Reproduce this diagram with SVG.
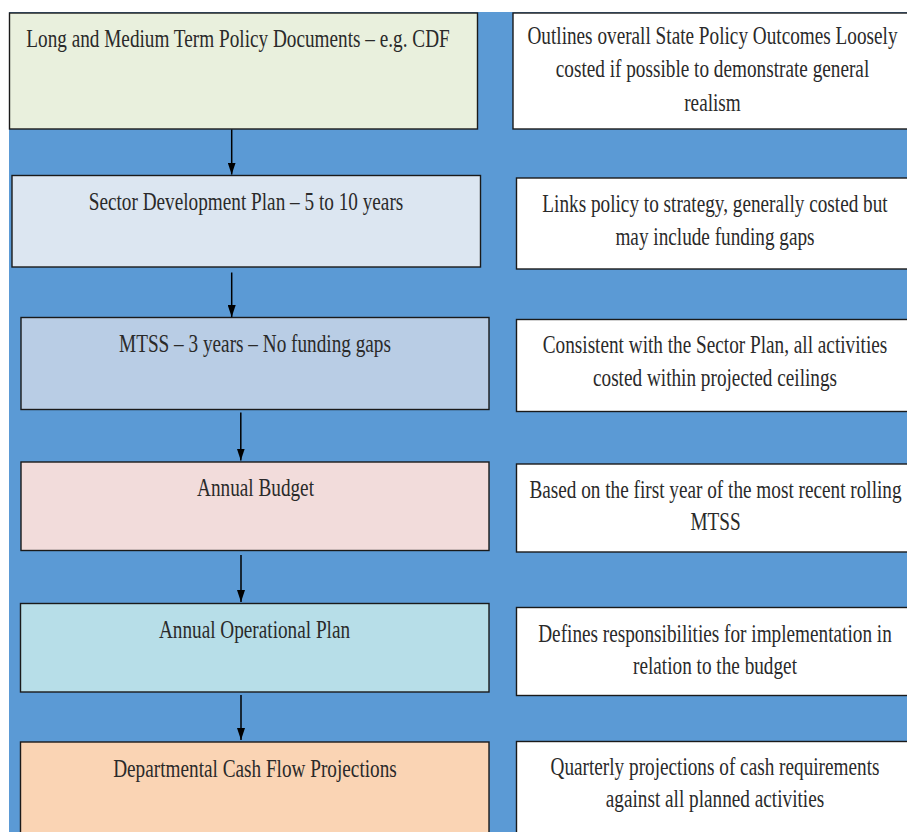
<svg xmlns="http://www.w3.org/2000/svg" width="907" height="832" viewBox="0 0 907 832">
  <style>
    .bg { fill: #5B9AD5; }
    .box { stroke: #1a1a1a; stroke-width: 1.4; }
    .note { fill: #ffffff; stroke: #1a1a1a; stroke-width: 1.4; }
    .lbl { font-family: "Liberation Serif", "Times New Roman", serif; font-size: 26px; fill: #2a2a2a; text-anchor: middle; }
    .conn { stroke: #000000; stroke-width: 1.5; fill: none; }
  </style>
  <defs>
    <marker id="arrow" viewBox="0 0 12 8" refX="12" refY="4" markerWidth="12" markerHeight="8" markerUnits="userSpaceOnUse" orient="auto">
      <path d="M0,0 L12,4 L0,8 z" fill="#000000"/>
    </marker>
  </defs>

  <!-- blue backdrop panel -->
  <rect class="bg" x="9" y="12" width="900" height="822"/>

  <!-- planning stages (left column) -->
  <g id="stage-policy">
    <rect class="box" x="9.5" y="13" width="468" height="116" fill="#E9F0DD"/>
    <text class="lbl" transform="translate(238 47) scale(0.74 1)">Long and Medium Term Policy Documents – e.g. CDF</text>
  </g>
  <g id="stage-sector-plan">
    <rect class="box" x="12" y="175.5" width="468.5" height="91.5" fill="#DCE6F1"/>
    <text class="lbl" transform="translate(246 210) scale(0.74 1)">Sector Development Plan – 5 to 10 years</text>
  </g>
  <g id="stage-mtss">
    <rect class="box" x="21" y="317.5" width="468" height="92" fill="#B9CDE5"/>
    <text class="lbl" transform="translate(255 352) scale(0.74 1)">MTSS – 3 years – No funding gaps</text>
  </g>
  <g id="stage-budget">
    <rect class="box" x="21" y="462" width="468" height="88.5" fill="#F2DCDB"/>
    <text class="lbl" transform="translate(255.5 496) scale(0.74 1)">Annual Budget</text>
  </g>
  <g id="stage-operational">
    <rect class="box" x="20.5" y="603.5" width="468.5" height="88.5" fill="#B7DEE8"/>
    <text class="lbl" transform="translate(254.5 638) scale(0.74 1)">Annual Operational Plan</text>
  </g>
  <g id="stage-cashflow">
    <rect class="box" x="20.5" y="742" width="468.5" height="100" fill="#FAD4B4"/>
    <text class="lbl" transform="translate(255 777) scale(0.74 1)">Departmental Cash Flow Projections</text>
  </g>

  <!-- descriptions (right column) -->
  <g id="note-policy">
    <rect class="note" x="513" y="13" width="400" height="116"/>
    <text class="lbl" transform="translate(712.5 43.5) scale(0.74 1)">Outlines overall State Policy Outcomes Loosely</text>
    <text class="lbl" transform="translate(712.5 77) scale(0.74 1)">costed if possible to demonstrate general</text>
    <text class="lbl" transform="translate(712.5 110.5) scale(0.74 1)">realism</text>
  </g>
  <g id="note-sector-plan">
    <rect class="note" x="516.5" y="178" width="400" height="91"/>
    <text class="lbl" transform="translate(715 212) scale(0.74 1)">Links policy to strategy, generally costed but</text>
    <text class="lbl" transform="translate(715 245) scale(0.74 1)">may include funding gaps</text>
  </g>
  <g id="note-mtss">
    <rect class="note" x="516.5" y="319.5" width="400" height="92"/>
    <text class="lbl" transform="translate(715 353) scale(0.74 1)">Consistent with the Sector Plan, all activities</text>
    <text class="lbl" transform="translate(715 386) scale(0.74 1)">costed within projected ceilings</text>
  </g>
  <g id="note-budget">
    <rect class="note" x="516.5" y="464" width="400" height="88"/>
    <text class="lbl" transform="translate(715.5 498) scale(0.74 1)">Based on the first year of the most recent rolling</text>
    <text class="lbl" transform="translate(715.5 530) scale(0.74 1)">MTSS</text>
  </g>
  <g id="note-operational">
    <rect class="note" x="516.5" y="607.5" width="400" height="88"/>
    <text class="lbl" transform="translate(715 641.5) scale(0.74 1)">Defines responsibilities for implementation in</text>
    <text class="lbl" transform="translate(715 674) scale(0.74 1)">relation to the budget</text>
  </g>
  <g id="note-cashflow">
    <rect class="note" x="516.5" y="741.5" width="400" height="100"/>
    <text class="lbl" transform="translate(715 775) scale(0.74 1)">Quarterly projections of cash requirements</text>
    <text class="lbl" transform="translate(715 807) scale(0.74 1)">against all planned activities</text>
  </g>

  <!-- flow connectors between stages -->
  <g id="connectors">
    <line class="conn" x1="231.7" y1="129.5" x2="231.7" y2="174.5" marker-end="url(#arrow)"/>
    <line class="conn" x1="231.7" y1="272.5" x2="231.7" y2="317" marker-end="url(#arrow)"/>
    <line class="conn" x1="240.8" y1="412.5" x2="240.8" y2="460.5" marker-end="url(#arrow)"/>
    <line class="conn" x1="241" y1="555" x2="241" y2="602" marker-end="url(#arrow)"/>
    <line class="conn" x1="241" y1="695" x2="241" y2="740" marker-end="url(#arrow)"/>
  </g>
</svg>
